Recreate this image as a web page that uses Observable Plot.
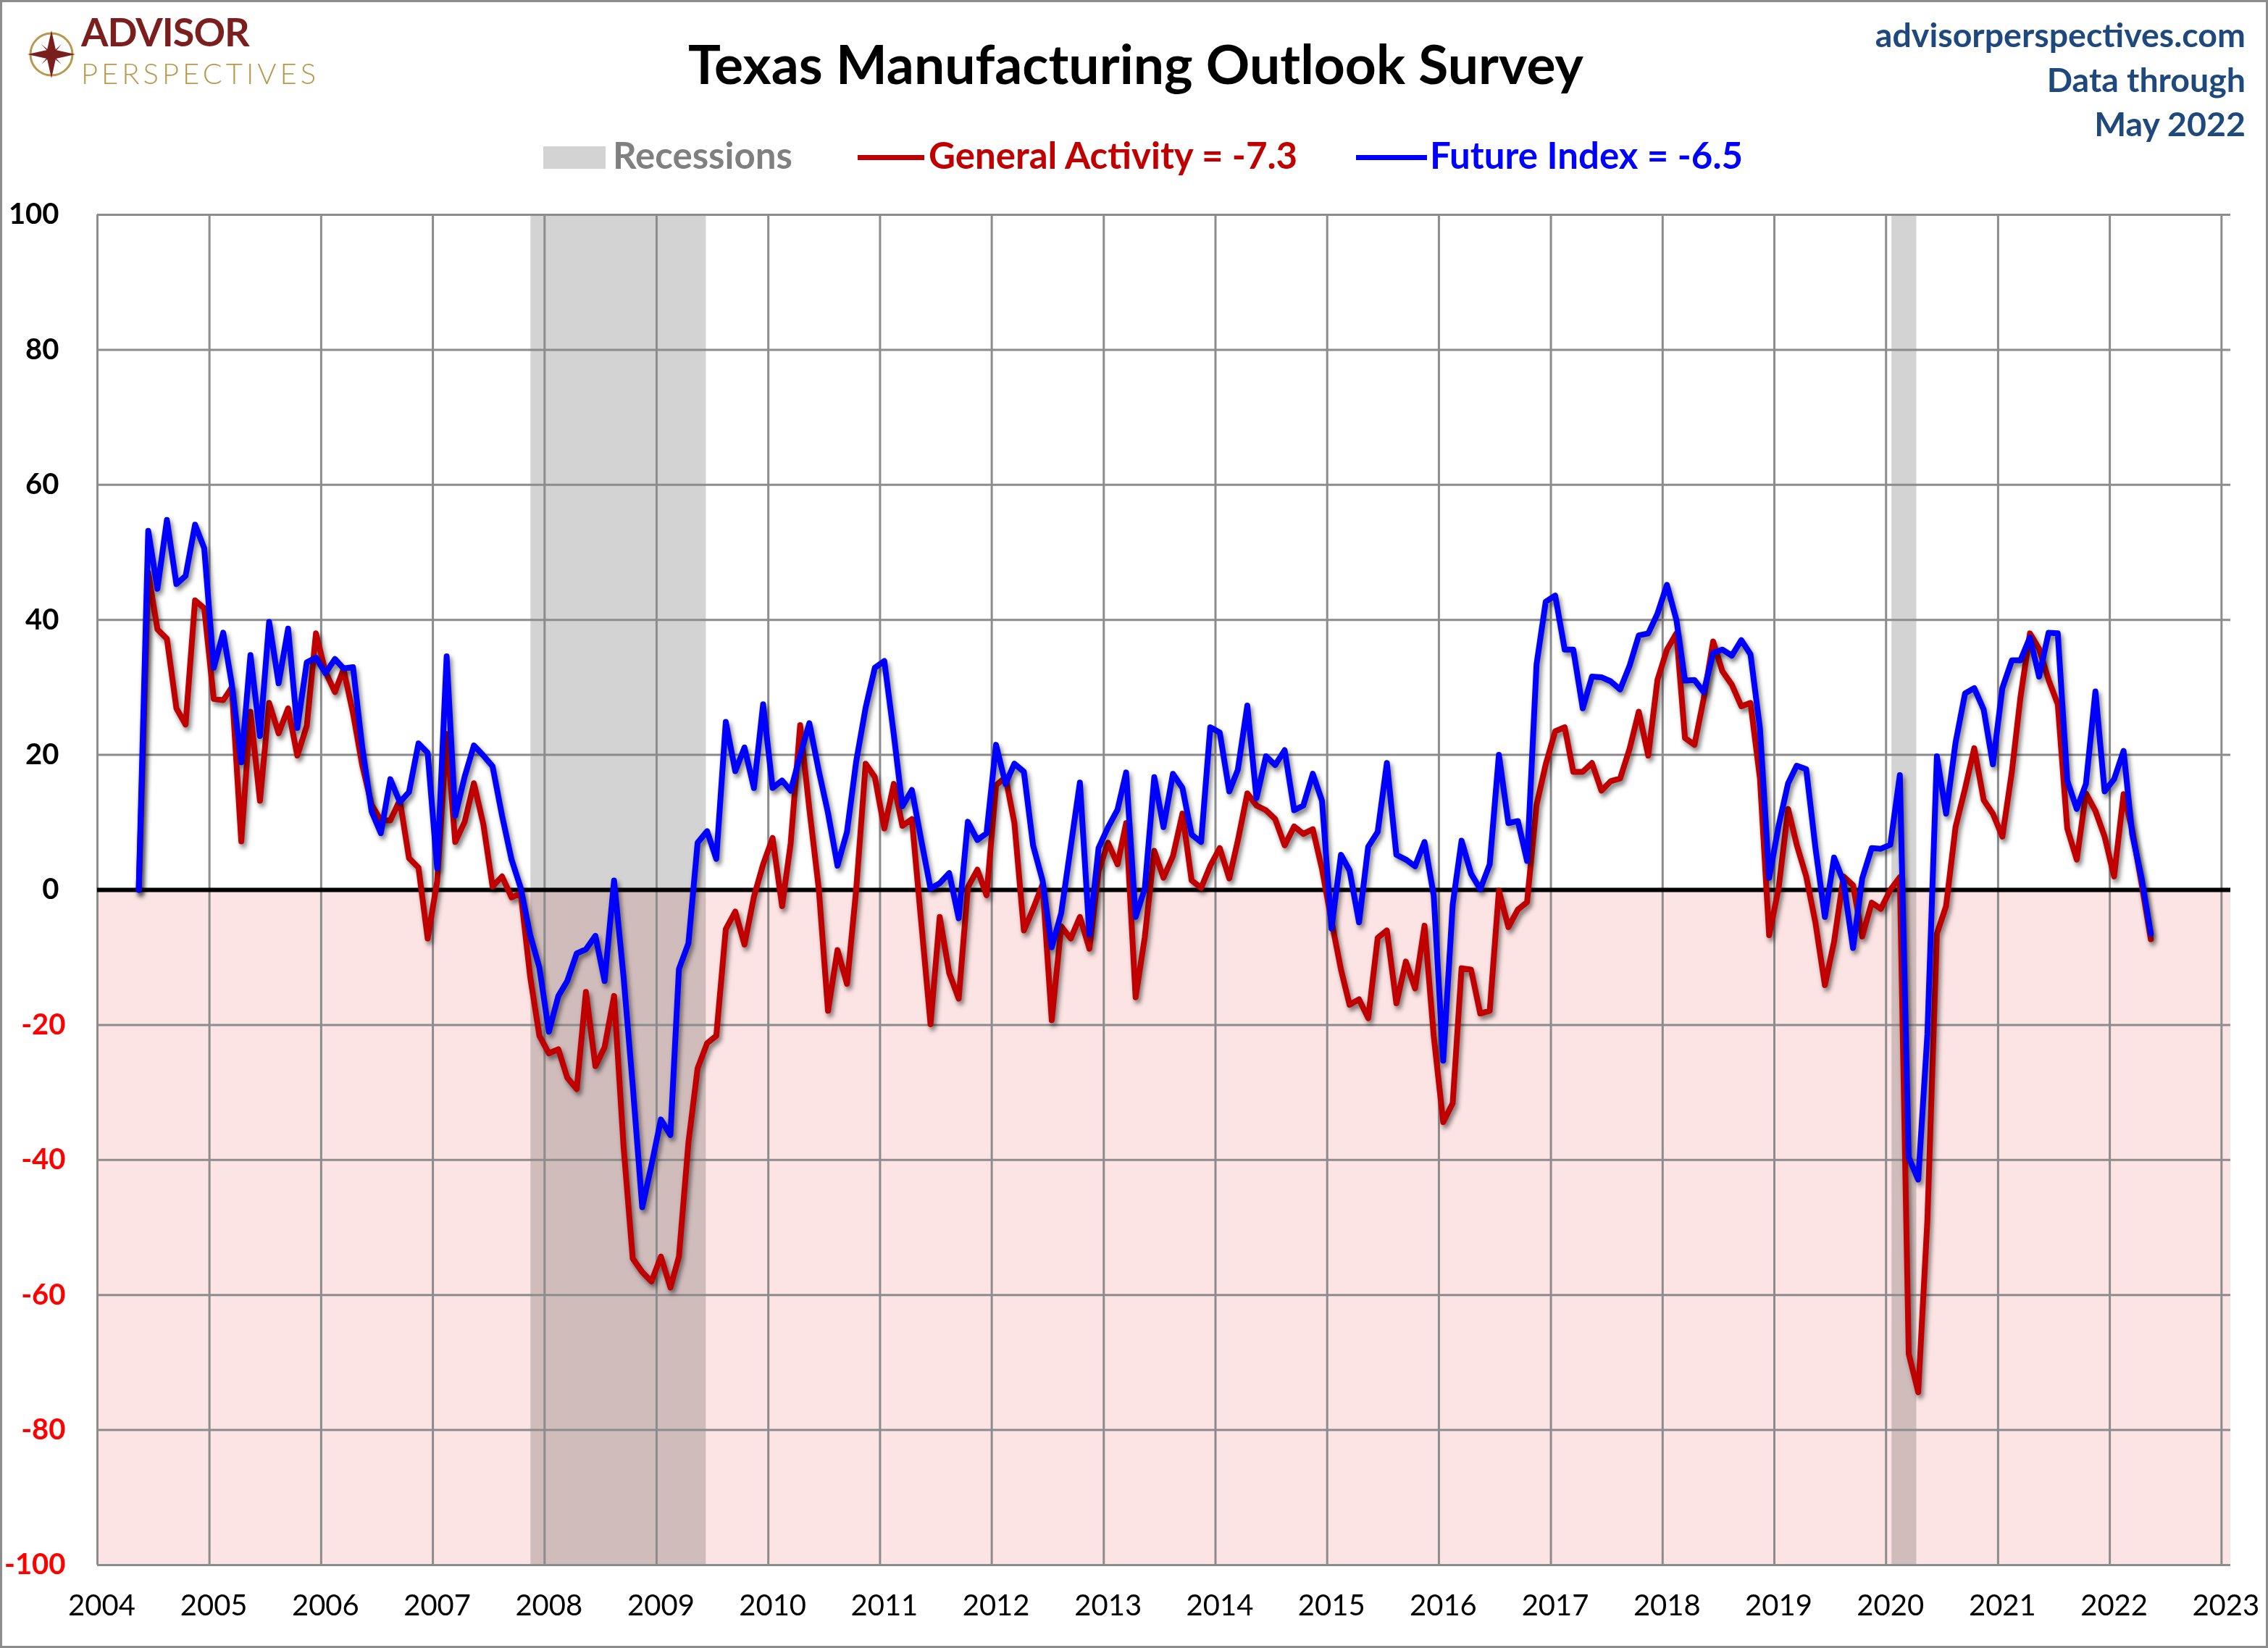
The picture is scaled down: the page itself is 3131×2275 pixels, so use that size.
<!DOCTYPE html>
<html>
<head>
<meta charset="utf-8">
<script src="https://cdn.jsdelivr.net/npm/d3@7"></script>
<script src="https://cdn.jsdelivr.net/npm/@observablehq/plot@0.6"></script>
<style>
html, body { margin: 0; padding: 0; background: #fff; }
#wrap { position: relative; width: 3131px; height: 2275px; overflow: hidden; background: #fff; font-family: Lato, "Open Sans", sans-serif; }
#border { position: absolute; left: 0; top: 0; width: 3131px; height: 2275px; box-sizing: border-box; border: 3px solid #8c8c8c; pointer-events: none; z-index: 10; }
.abs { position: absolute; white-space: nowrap; line-height: 1; }
#chart { position: absolute; left: 0; top: 250px; }
#chart svg g[aria-label="line"] path { filter: drop-shadow(3px 5px 3px rgba(0,0,0,0.5)); }
</style>
</head>
<body>
<div id="wrap">
  <svg class="abs" style="left:38px;top:42px;" width="66" height="66" viewBox="-33 -33 66 66">
    <circle r="29" fill="none" stroke="#b8984c" stroke-width="3"/>
    <polygon points="0,-33 6,-6 33,0 6,6 0,33 -6,6 -33,0 -6,-6" fill="#7a1e1e"/>
    <polygon points="14,-14 4,-2 -14,14 -4,2" fill="#7a1e1e"/>
    <polygon points="-14,-14 -2,-4 14,14 2,4" fill="#7a1e1e"/>
  </svg>
  <div class="abs" style="left:112px;top:17px;font-size:54px;font-weight:700;color:#7a1e1e;letter-spacing:-1px;">ADVISOR</div>
  <div class="abs" style="left:112px;top:81px;font-size:40px;font-weight:300;color:#b8984c;letter-spacing:5px;">PERSPECTIVES</div>

  <div class="abs" style="left:1568px;top:50px;font-size:75px;font-weight:700;color:#000;transform:translateX(-50%);">Texas Manufacturing Outlook Survey</div>

  <div class="abs" style="right:31px;top:24px;font-size:46.5px;font-weight:700;color:#1f497d;">advisorperspectives.com</div>
  <div class="abs" style="right:31px;top:86px;font-size:46.5px;font-weight:700;color:#1f497d;">Data through</div>
  <div class="abs" style="right:31px;top:147px;font-size:46.5px;font-weight:700;color:#1f497d;">May 2022</div>

  <div class="abs" style="left:750px;top:202px;width:86px;height:31px;background:#d3d3d3;"></div>
  <div class="abs" style="left:846px;top:188px;font-size:51px;font-weight:700;color:#808080;">Recessions</div>
  <div class="abs" style="left:1184px;top:214px;width:92px;height:7px;background:#c00000;"></div>
  <div class="abs" style="left:1282px;top:188px;font-size:51px;font-weight:700;color:#c00000;">General Activity = -7.3</div>
  <div class="abs" style="left:1872px;top:214px;width:98px;height:7px;background:#0000ff;"></div>
  <div class="abs" style="left:1974px;top:188px;font-size:51px;font-weight:700;color:#0000ff;">Future Index = -6.5</div>

  <div id="chart"></div>
  <div id="border"></div>
</div>
<script>
// Monthly values, May 2004 .. May 2022
const general = [
  0, 47, 38.6, 37.2, 26.9, 24.5, 42.9, 41.7, 28.3, 28.1, 30.0, 7.2,
  26.4, 13.2, 27.7, 23.2, 26.9, 19.9, 24.3, 38.0, 32.3, 29.3, 32.7, 26.2,
  18.5, 12.6, 10.3, 10.3, 13.3, 4.7, 3.3, -7.2, 1.3, 23.1, 7.1, 10.1,
  15.8, 9.7, 0.5, 2.0, -1.1, -0.5, -12.9, -21.6, -24.2, -23.6, -27.8, -29.5,
  -15.1, -26.1, -23.3, -15.7, -38, -54.6, -56.6, -58.0, -54.3, -58.9, -54.3, -37.4,
  -26.4, -22.7, -21.6, -5.8, -3.2, -8.1, -1.0, 3.8, 7.7, -2.4, 6.9, 24.4,
  12, 0.1, -17.9, -8.9, -13.9, 0, 18.7, 16.7, 9.1, 15.7, 9.5, 10.5,
  -4.5, -19.9, -4.0, -12.3, -16.1, 0.4, 3.0, -0.8, 15.5, 16.7, 9.9, -6.0,
  -2.8, 0.8, -19.3, -5.4, -7.2, -4.0, -8.7, 2.8, 7.0, 3.8, 9.9, -15.9,
  -7.0, 5.8, 1.8, 5.0, 11.3, 1.4, 0.3, 3.6, 6.2, 1.7, 7.3, 14.3,
  12.5, 11.8, 10.5, 6.6, 9.4, 8.3, 9.0, 3.1, -4.6, -11.8, -17.0, -16.2,
  -19.0, -7.1, -6.0, -16.8, -10.6, -14.6, -5.3, -21.6, -34.4, -31.6, -11.6, -11.8,
  -18.3, -17.9, -0.1, -5.5, -2.9, -1.8, 12.6, 18.6, 23.5, 24.1, 17.5, 17.5,
  18.8, 14.7, 16.1, 16.5, 20.9, 26.4, 19.9, 31.1, 35.6, 38.0, 22.5, 21.5,
  28.3, 36.8, 32.4, 30.4, 27.2, 27.7, 16.5, -6.7, 0.3, 12.0, 6.7, 2.0,
  -4.8, -14.1, -7.7, 2.0, 0.7, -6.9, -1.9, -2.8, 0, 1.9, -68.7, -74.4,
  -48.9, -6.5, -2.4, 9.3, 15.0, 21.0, 13.3, 11.3, 7.9, 17.5, 28.5, 38.0,
  35.7, 31.1, 27.5, 9.1, 4.5, 14.3, 11.7, 7.9, 2.0, 14.2, 8.9, 0.9,
  -7.3
];
const future = [
  0, 53.2, 44.6, 54.8, 45.3, 46.5, 54.1, 50.6, 32.9, 38.1, 30.5, 18.9,
  34.8, 22.8, 39.7, 30.6, 38.7, 24.0, 33.7, 34.4, 32.1, 34.2, 32.8, 33.0,
  21.2, 11.6, 8.4, 16.4, 13.0, 14.5, 21.7, 20.3, 3.2, 34.6, 11.0, 16.8,
  21.4, 19.9, 18.3, 11.0, 4.5, 0.3, -6.7, -11.5, -21.0, -15.7, -13.5, -9.4,
  -8.8, -6.8, -13.5, 1.4, -12.9, -29, -47.0, -40.8, -34.0, -36.3, -11.7, -7.9,
  7.0, 8.7, 4.6, 24.9, 17.6, 21.1, 15.1, 27.5, 15.1, 16.2, 14.7, 19.9,
  24.7, 17.6, 11.4, 3.6, 8.6, 19, 27, 32.9, 33.9, 23, 12.4, 14.8,
  7.5, 0.2, 1.0, 2.5, -4.2, 10.1, 7.4, 8.4, 21.5, 15.7, 18.7, 17.5,
  6.6, 1.4, -8.5, -3.4, 6.4, 15.9, -6.6, 6.2, 9.3, 11.9, 17.4, -4.0,
  0.2, 16.7, 9.3, 17.2, 15.1, 8.2, 7.1, 24.1, 23.3, 14.6, 17.8, 27.3,
  13.6, 19.8, 18.5, 20.7, 11.8, 12.5, 17.2, 13.2, -5.7, 5.2, 2.9, -4.8,
  6.4, 8.6, 18.8, 5.2, 4.5, 3.5, 7.1, -0.8, -25.3, -2.2, 7.3, 2.4,
  0.1, 3.8, 20.0, 9.9, 10.2, 4.3, 33.4, 42.7, 43.6, 35.6, 35.6, 26.9,
  31.6, 31.5, 30.9, 29.7, 33.2, 37.7, 38.0, 40.9, 45.2, 40.0, 31.0, 31.1,
  29.3, 35.1, 35.6, 34.7, 37.0, 34.9, 23.9, 1.8, 9.5, 15.8, 18.4, 17.9,
  6.3, -4.0, 4.8, 1.2, -8.6, 1.7, 6.2, 6.1, 6.7, 17.0, -39.6, -42.9,
  -21.4, 19.8, 11.3, 21.8, 29.1, 29.9, 26.7, 18.6, 29.9, 34.0, 34.0, 37.4,
  31.6, 38.1, 38.0, 16.2, 12.0, 15.7, 29.4, 14.6, 16.4, 20.6, 8.3, 1.7,
  -6.5
];
const recessionStart = ["2007-11-17", "2020-01-20"];
const recessionEnd = ["2009-06-12", "2020-04-10"];
const yTicks = [-100, -80, -60, -40, -20, 0, 20, 40, 60, 80, 100];
const xTickYears = [2004, 2005, 2006, 2007, 2008, 2009, 2010, 2011, 2012, 2013, 2014, 2015, 2016, 2017, 2018, 2019, 2020, 2021, 2022, 2023];

const rows = general.map((g, i) => ({ date: new Date(Date.UTC(2004, 4 + i, 15)), general: g, future: future[i] }));
const recessions = recessionStart.map((s, i) => ({ start: new Date(s + "T00:00:00Z"), end: new Date(recessionEnd[i] + "T00:00:00Z") }));
const x0 = new Date(Date.UTC(2004, 0, 1));
const x1 = new Date(Date.UTC(2023, 0, 31));
const yearDates = xTickYears.map(y => new Date(Date.UTC(y, 0, 1)));

const chart = Plot.plot({
  width: 3131,
  height: 2025,
  marginLeft: 134,
  marginRight: 52,
  marginTop: 46,
  marginBottom: 115,
  x: { type: "utc", domain: [x0, x1], axis: null },
  y: { domain: [-100, 100], axis: null },
  style: { fontFamily: "Lato, 'Open Sans', sans-serif", background: "transparent", overflow: "visible" },
  marks: [
    Plot.rect([0], { x1: () => x0, x2: () => x1, y1: () => 0, y2: () => -100, fill: "#fde4e4" }),
    Plot.rect(recessions, { x1: "start", x2: "end", y1: () => -100, y2: () => 100, fill: "#d3d3d3", mixBlendMode: "multiply" }),
    Plot.ruleX(yearDates, { stroke: "#8c8c8c", strokeWidth: 3 }),
    Plot.ruleY(yTicks.filter(d => d !== 0), { stroke: "#8c8c8c", strokeWidth: 3 }),
    Plot.ruleY([0], { stroke: "#000000", strokeWidth: 6 }),
    Plot.line(rows, { x: "date", y: "general", stroke: "#c00000", strokeWidth: 8, strokeLinejoin: "round", strokeLinecap: "round" }),
    Plot.line(rows, { x: "date", y: "future", stroke: "#0000ff", strokeWidth: 8, strokeLinejoin: "round", strokeLinecap: "round" }),
    Plot.text(yTicks.filter(d => d >= 0), { x: () => x0, y: d => d, text: d => String(d), textAnchor: "end", dx: -53, fontSize: 40, fontWeight: "bold", fill: "#000000" }),
    Plot.text(yTicks.filter(d => d < 0), { x: () => x0, y: d => d, text: d => String(d), textAnchor: "end", dx: -44, fontSize: 40, fontWeight: "bold", fill: "#ff0000" }),
    Plot.text(xTickYears, { x: d => new Date(Date.UTC(d, 0, 1)), y: () => -100, dy: 57, dx: 6, text: d => String(d), fontSize: 40, fill: "#000000" })
  ]
});
document.getElementById("chart").appendChild(chart);
</script>
</body>
</html>
